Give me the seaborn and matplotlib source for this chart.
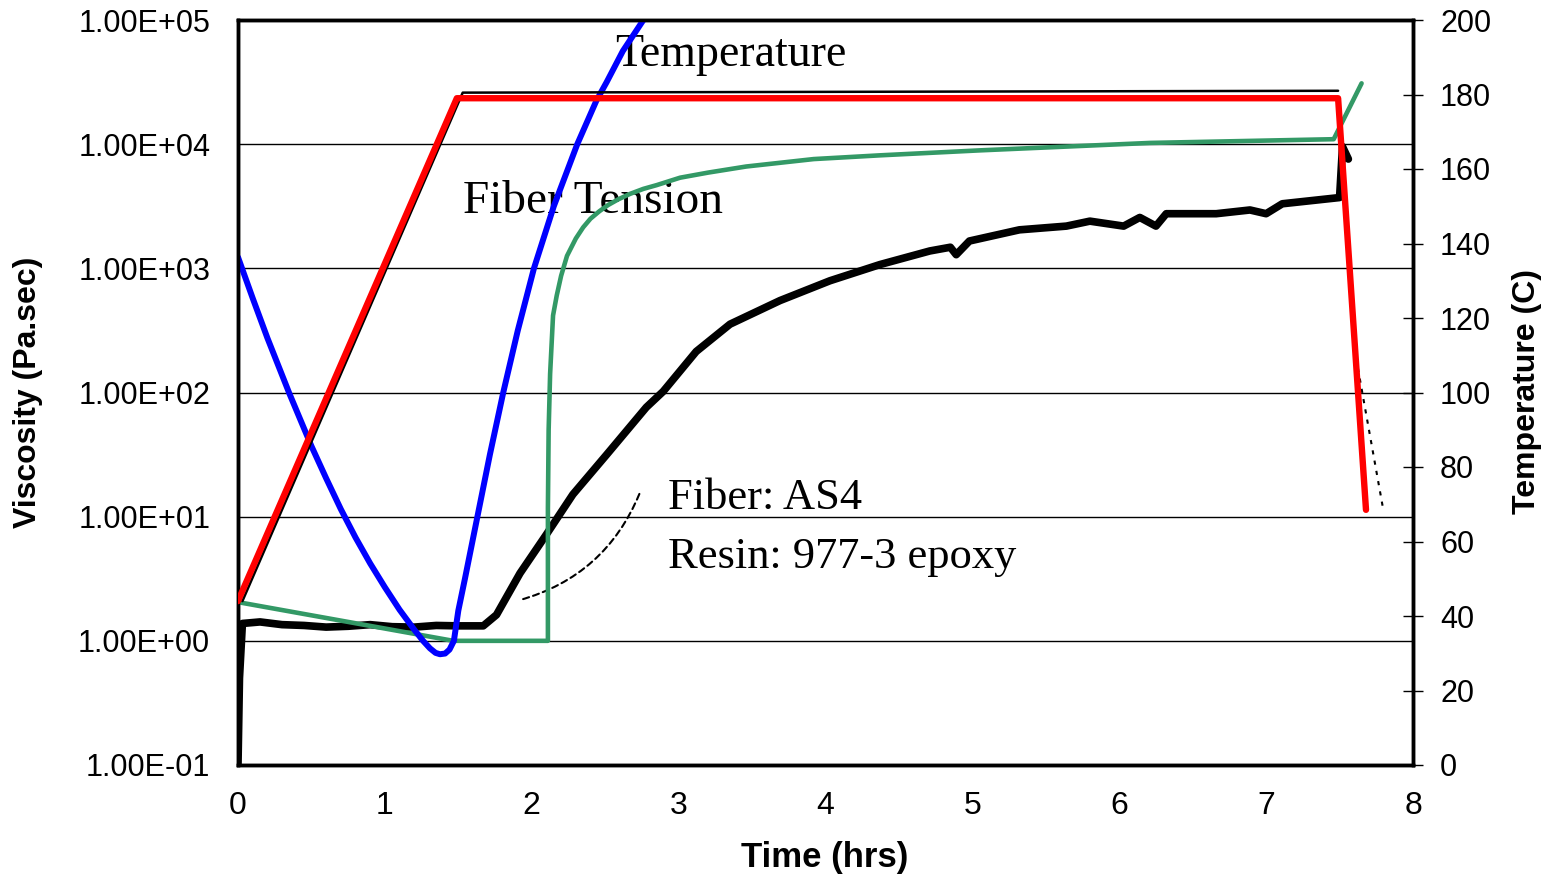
import matplotlib
matplotlib.use('Agg')
import matplotlib.pyplot as plt
from matplotlib.ticker import FixedLocator, FuncFormatter, NullLocator
import numpy as np
import pandas as pd
import seaborn as sns


# viscosity model (left axis, log scale)
visc_hours = [0.0, 0.1, 0.2, 0.35, 0.5, 0.6, 0.7, 0.8, 0.9, 1.0, 1.1, 1.2, 1.26,
              1.307, 1.345, 1.375, 1.41, 1.44, 1.47, 1.50, 1.545, 1.63, 1.715, 1.806,
              1.905, 2.015, 2.15, 2.31, 2.44, 2.51, 2.62, 2.76]
visc_values = [1230, 575, 275, 98, 37, 20.4, 11.5, 6.8, 4.2, 2.7, 1.78, 1.23, 1.0,
               0.87, 0.80, 0.78, 0.79, 0.85, 1.0, 1.75, 3.16, 10, 31.6, 100,
               316, 1000, 3160, 10000, 22400, 31600, 56200, 100000]

# second viscosity series (left axis)
visc2_hours = [0.0, 1.466, 2.11, 2.11, 2.115, 2.125, 2.145, 2.17, 2.20, 2.24, 2.30, 2.35,
               2.40, 2.46, 2.52, 2.59, 2.67, 2.76, 2.85, 3.01, 3.2, 3.46, 3.92, 4.37,
               5.05, 6.21, 7.46, 7.65]
visc2_values = [2.05, 1.0, 1.0, 11.7, 50, 141, 417, 603, 871, 1259, 1738, 2138,
                2512, 2880, 3236, 3600, 3981, 4365, 4677, 5370, 5900, 6607, 7586, 8128,
                8913, 10233, 10965, 30903]

# scanned fiber tension trace (left axis)
tension_hours = [0.0, 0.01, 0.03, 0.15, 0.3, 0.45, 0.6, 0.75, 0.9, 1.05, 1.2, 1.35, 1.5,
                 1.67, 1.76, 1.92, 2.10, 2.28, 2.51, 2.78, 2.895, 3.12, 3.35, 3.69, 4.03,
                 4.37, 4.71, 4.85, 4.89, 4.98, 5.32, 5.64, 5.80, 6.03, 6.14, 6.25, 6.32,
                 6.66, 6.89, 7.0, 7.11, 7.50, 7.52, 7.56]
tension_values = [0.1, 0.5, 1.38, 1.42, 1.35, 1.33, 1.29, 1.31, 1.35, 1.3, 1.29, 1.33, 1.32,
                  1.32, 1.62, 3.5, 7.2, 15.1, 31.6, 76, 102, 214, 355, 550, 794,
                  1072, 1380, 1479, 1288, 1660, 2042, 2188, 2399, 2188, 2570, 2188, 2754,
                  2754, 2951, 2754, 3311, 3715, 9550, 7586]

# temperature cycle (right axis)
temp_hours = [0.0, 1.49, 7.49, 7.68]
temp_values = [44, 179, 179, 68.5]

# scanned temperature trace (right axis)
scan_temp_hours = [0.03, 1.53, 7.49]
scan_temp_values = [44, 180.5, 181]
scan_cool_hours = [7.60, 7.80]
scan_cool_values = [112, 68]

x_ticks = [0, 1, 2, 3, 4, 5, 6, 7, 8]
visc_ticks = [1e-1, 1e0, 1e1, 1e2, 1e3, 1e4, 1e5]
temp_ticks = [0, 20, 40, 60, 80, 100, 120, 140, 160, 180, 200]

sns.set_style('white')
plt.rcParams['font.family'] = ['Liberation Sans', 'DejaVu Sans']
plt.rcParams['text.color'] = 'black'
plt.rcParams['axes.labelcolor'] = 'black'
plt.rcParams['xtick.color'] = 'black'
plt.rcParams['ytick.color'] = 'black'

W, H = 1548, 874
fig = plt.figure(figsize=(W / 100, H / 100), dpi=100)
ax = fig.add_axes([238 / W, 1 - 765 / H, (1413 - 238) / W, (765 - 20) / H])

ax.set_yscale('log')
ax.set_xlim(0, 8)
ax.set_ylim(0.1, 1e5)

sns.lineplot(x=tension_hours, y=tension_values, ax=ax, sort=False, estimator=None,
             color='black', linewidth=5.5, zorder=2)
sns.lineplot(x=visc2_hours, y=visc2_values, ax=ax, sort=False, estimator=None,
             color='#339966', linewidth=3.3, zorder=4)
sns.lineplot(x=visc_hours, y=visc_values, ax=ax, sort=False, estimator=None,
             color='#0000FF', linewidth=4.3, zorder=5, solid_capstyle='round')

ax.yaxis.set_major_locator(FixedLocator(visc_ticks))
ax.yaxis.set_minor_locator(NullLocator())
ax.yaxis.set_major_formatter(FuncFormatter(lambda v, p: f'{v:.2E}'))
ax.set_xticks(x_ticks)
ax.tick_params(axis='y', length=0, pad=20, labelsize=22)
ax.tick_params(axis='x', length=5, width=1.2, direction='out', pad=14, labelsize=23)
ax.grid(axis='y', which='major', color='black', linewidth=1.0)
ax.grid(axis='x', visible=False)
for side in ['left', 'right', 'top', 'bottom']:
    ax.spines[side].set_visible(True)
    ax.spines[side].set_color('black')
    ax.spines[side].set_linewidth(2.5)

ax2 = ax.twinx()
ax2.set_ylim(0, 200)
sns.lineplot(x=scan_temp_hours, y=scan_temp_values, ax=ax2, sort=False, estimator=None,
             color='black', linewidth=1.8, zorder=1)
sns.lineplot(x=scan_cool_hours, y=scan_cool_values, ax=ax2, sort=False, estimator=None,
             color='black', linewidth=1.5, linestyle=(0, (2, 3)), zorder=1)
sns.lineplot(x=temp_hours, y=temp_values, ax=ax2, sort=False, estimator=None,
             color='#FF0000', linewidth=4.6, zorder=6, solid_capstyle='round')
ax2.set_yticks(temp_ticks)
ax2.tick_params(axis='y', direction='inout', length=15, width=1.0, pad=12, labelsize=22)
ax2.grid(False)
ax2.set_xlim(0, 8)
for side in ['left', 'right', 'top', 'bottom']:
    ax2.spines[side].set_color('black')
    ax2.spines[side].set_linewidth(2.5)

# annotation text from the scanned figure
serif = ['Liberation Serif', 'DejaVu Serif']
ax.text(0.321, 0.953, 'Temperature', transform=ax.transAxes, family=serif,
        fontsize=33, ha='left', va='center', zorder=3)
ax.text(0.1915, 0.756, 'Fiber Tension', transform=ax.transAxes, family=serif,
        fontsize=34, ha='left', va='center', zorder=3)
ax.text(0.366, 0.358, 'Fiber: AS4', transform=ax.transAxes, family=serif,
        fontsize=32, ha='left', va='center', zorder=3)
ax.text(0.366, 0.279, 'Resin: 977-3 epoxy', transform=ax.transAxes, family=serif,
        fontsize=32, ha='left', va='center', zorder=3)
ax.annotate('', xy=(1.9, 2.1), xytext=(2.74, 16),
            arrowprops=dict(arrowstyle='-', color='black', linewidth=1.5,
                            linestyle=(0, (3, 2)), connectionstyle='arc3,rad=-0.25'))

fig.text(28 / W, 1 - 392 / H, 'Viscosity (Pa.sec)', rotation=90, ha='center', va='center',
         fontsize=23, fontweight='bold')
fig.text(1527 / W, 1 - 391 / H, 'Temperature (C)', rotation=90, ha='center', va='center',
         fontsize=23, fontweight='bold')
fig.text(825 / W, 1 - 857 / H, 'Time (hrs)', ha='center', va='center',
         fontsize=25, fontweight='bold')

fig.savefig('out.png', dpi=100)
